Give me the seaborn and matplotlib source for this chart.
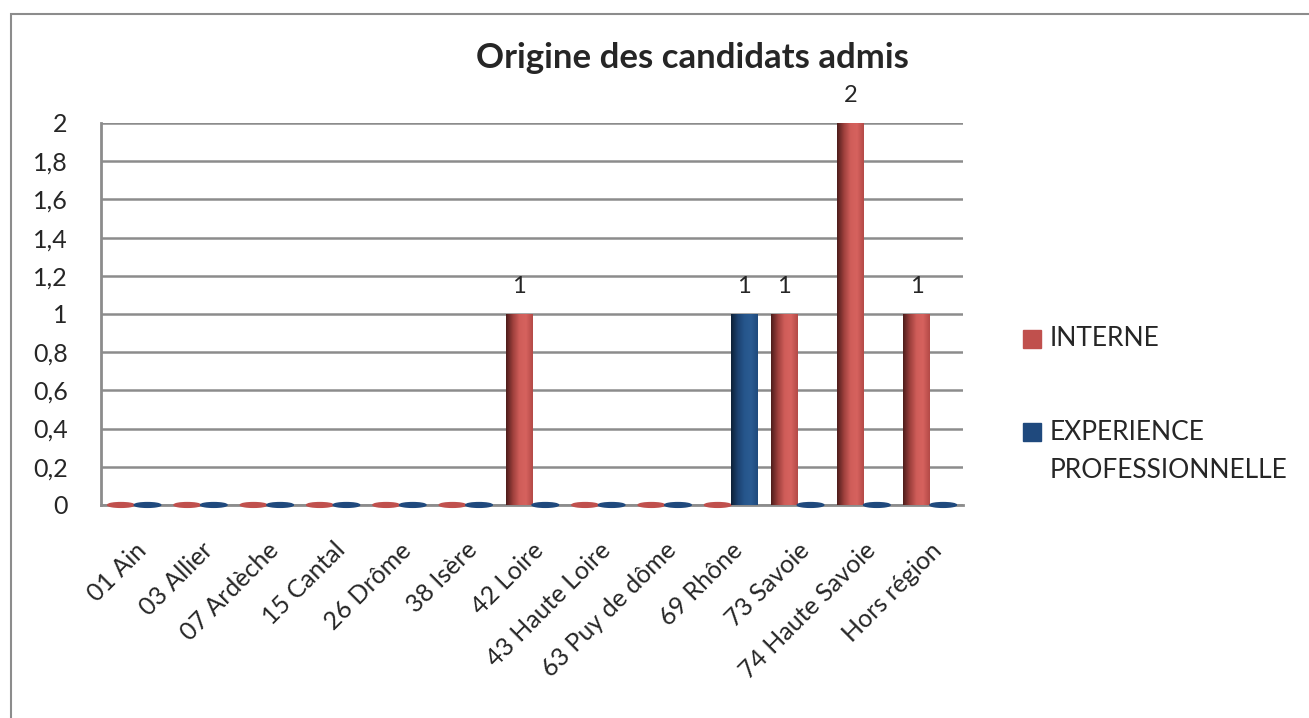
import numpy as np
import pandas as pd
import seaborn as sns
import matplotlib.pyplot as plt
from matplotlib.colors import LinearSegmentedColormap
from matplotlib.patches import Ellipse, Rectangle

# =====================================================
# DONNEES
# =====================================================

departements = ["01 Ain", "03 Allier", "07 Ardèche", "15 Cantal", "26 Drôme",
                "38 Isère", "42 Loire", "43 Haute Loire", "63 Puy de dôme",
                "69 Rhône", "73 Savoie", "74 Haute Savoie", "Hors région"]
interne = [0, 0, 0, 0, 0, 0, 1, 0, 0, 0, 1, 2, 1]
experience = [0, 0, 0, 0, 0, 0, 0, 0, 0, 1, 0, 0, 0]
series = ["INTERNE", "EXPERIENCE PROFESSIONNELLE"]
y_ticks = [0, 0.2, 0.4, 0.6, 0.8, 1, 1.2, 1.4, 1.6, 1.8, 2]

couleurs = {"INTERNE": "#c0504d", "EXPERIENCE PROFESSIONNELLE": "#1f497d"}
degrades = {
    "INTERNE": ["#4e1d1b", "#9c3f3c", "#cf5d59", "#d6625e", "#b44a47"],
    "EXPERIENCE PROFESSIONNELLE": ["#0e2138", "#1c4270", "#26568c", "#2a5b92", "#1f4a7c"],
}

df = pd.DataFrame({
    "Departement": departements * 2,
    "Nombre": interne + experience,
    "Serie": [series[0]] * len(departements) + [series[1]] * len(departements),
})

# =====================================================
# FIGURE
# =====================================================

sns.set_style("white")
plt.rcParams["font.family"] = ["Lato", "DejaVu Sans"]

fig = plt.figure(figsize=(13.09, 7.18), dpi=100)
ax = fig.add_axes([0.0772, 0.2967, 0.6585, 0.532])

sns.barplot(data=df, x="Departement", y="Nombre", hue="Serie",
            palette=couleurs, width=0.8, legend=False, ax=ax, zorder=3)

# cylindres : degradé horizontal sur chaque barre
for patch, serie in zip(ax.patches, [series[0]] * 13 + [series[1]] * 13):
    x0, w, h = patch.get_x(), patch.get_width(), patch.get_height()
    cmap = LinearSegmentedColormap.from_list("c", degrades[serie])
    patch.set_visible(False)
    if h > 0:
        grad = np.linspace(0, 1, 64).reshape(1, -1)
        ax.imshow(grad, extent=[x0, x0 + w, 0, h], aspect="auto",
                  cmap=cmap, zorder=4)
    else:
        ax.add_patch(Ellipse((x0 + w / 2, 0.0), w, 0.025,
                             color=couleurs[serie], zorder=4, clip_on=False))

# etiquettes (valeurs non nulles)
for patch in ax.patches:
    if isinstance(patch, Rectangle) and patch.get_height() > 0:
        ax.text(patch.get_x() + patch.get_width() / 2, patch.get_height() + 0.09,
                f"{patch.get_height():g}", ha="center", va="bottom",
                fontsize=17, clip_on=False)

ax.set_xlim(-0.5, 12.5)
ax.set_ylim(0, 2)
ax.set_yticks(y_ticks)
ax.set_yticklabels([f"{t:g}".replace(".", ",") for t in y_ticks], fontsize=18)
ax.tick_params(axis="y", pad=24, length=0)
ax.set_xticks(range(len(departements)))
ax.set_xticklabels(departements, rotation=45, ha="right",
                   rotation_mode="anchor", fontsize=18)
ax.tick_params(axis="x", pad=24, length=0)
ax.set_xlabel("")
ax.set_ylabel("")

ax.grid(axis="y", color="#8c8c8c", linewidth=1.8, zorder=0)
ax.set_axisbelow(True)
for s in ["top", "right"]:
    ax.spines[s].set_visible(False)
ax.spines["left"].set_color("#8c8c8c")
ax.spines["left"].set_linewidth(2)
ax.spines["bottom"].set_color("#8c8c8c")
ax.spines["bottom"].set_linewidth(2)

fig.text(0.5287, 0.919, "Origine des candidats admis", ha="center",
         va="center", fontsize=25, fontweight="bold")

# legende
fig.patches.append(Rectangle((1023 / 1309, 1 - 348 / 718), 18 / 1309, 18 / 718,
                             transform=fig.transFigure, color=couleurs[series[0]]))
fig.patches.append(Rectangle((1023 / 1309, 1 - 441 / 718), 18 / 1309, 18 / 718,
                             transform=fig.transFigure, color=couleurs[series[1]]))
fig.text(1050 / 1309, 1 - 339 / 718, "INTERNE", va="center", fontsize=19)
fig.text(1050 / 1309, 1 - 432 / 718, "EXPERIENCE", va="center", fontsize=19)
fig.text(1050 / 1309, 1 - 471 / 718, "PROFESSIONNELLE", va="center", fontsize=19)

# cadre du graphique
fig.patches.append(Rectangle((11 / 1309, -0.1), 1.2, 1.1 - 14 / 718,
                             transform=fig.transFigure, fill=False,
                             edgecolor="#8c8c8c", linewidth=1.5))

fig.savefig("out.png", dpi=100)
